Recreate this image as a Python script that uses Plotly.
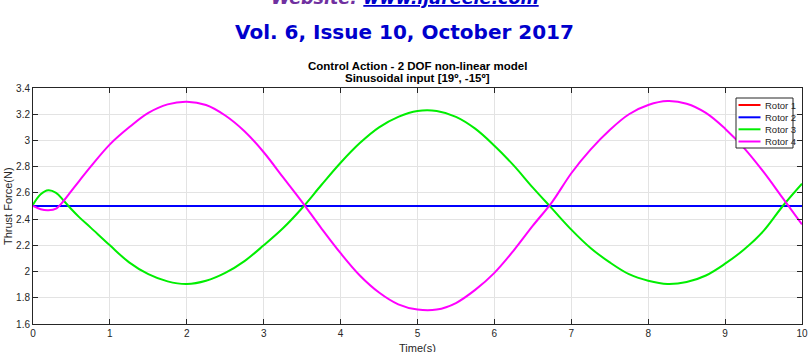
import plotly.graph_objects as go

# ---- data ----
time_s = [0, 0.1, 0.2, 0.3, 0.4, 0.5, 0.6, 0.75, 1.0, 1.25, 1.5, 1.75, 2.0, 2.25, 2.5, 2.75,
          3.0, 3.25, 3.5, 3.75, 4.0, 4.25, 4.5, 4.75, 5.0, 5.25, 5.5, 5.75, 6.0, 6.25, 6.5,
          6.75, 7.0, 7.25, 7.5, 7.75, 8.0, 8.25, 8.5, 8.75, 9.0, 9.25, 9.5, 9.75, 10.0]

rotor1 = [2.5] * len(time_s)
rotor2 = [2.5] * len(time_s)
rotor3 = [2.51, 2.59, 2.62, 2.60, 2.54, 2.475, 2.415, 2.335, 2.20, 2.07, 1.98, 1.925, 1.905, 1.93,
          1.99, 2.08, 2.20, 2.33, 2.485, 2.66, 2.83, 2.98, 3.10, 3.18, 3.225, 3.225, 3.18,
          3.09, 2.96, 2.81, 2.64, 2.48, 2.32, 2.18, 2.07, 1.98, 1.93, 1.905, 1.92, 1.97, 2.06,
          2.17, 2.31, 2.50, 2.67]
rotor4 = [2.50, 2.475, 2.468, 2.48, 2.54, 2.615, 2.69, 2.80, 2.97, 3.10, 3.21, 3.275, 3.295,
          3.27, 3.19, 3.07, 2.91, 2.72, 2.53, 2.33, 2.14, 1.97, 1.84, 1.75, 1.71, 1.71, 1.76,
          1.86, 1.99, 2.16, 2.35, 2.53, 2.75, 2.93, 3.08, 3.20, 3.27, 3.30, 3.28, 3.21, 3.09,
          2.94, 2.76, 2.56, 2.36]

series_names = ["Rotor 1", "Rotor 2", "Rotor 3", "Rotor 4"]
series_colors = ["#ff0000", "#0000ff", "#00ee00", "#ff00ff"]

x_ticks = [0, 1, 2, 3, 4, 5, 6, 7, 8, 9, 10]
y_ticks = [1.6, 1.8, 2.0, 2.2, 2.4, 2.6, 2.8, 3.0, 3.2, 3.4]
y_tick_labels = ["1.6", "1.8", "2", "2.2", "2.4", "2.6", "2.8", "3", "3.2", "3.4"]

title_line1 = "Control Action - 2 DOF non-linear model"
title_line2 = "Sinusoidal input [19º, -15º]"
x_title = "Time(s)"
y_title = "Thrust Force(N)"
header_vol = "Vol. 6, Issue 10, October 2017"
header_site_label = "Website: "
header_site_url = "www.ijareeie.com"

# ---- layout geometry (pixels) ----
W, H = 808, 352
L, R, T, B = 33, 6, 88, 28
PW, PH = W - L - R, H - T - B


def px(x):
    return (x - L) / PW


def py(y):
    return (H - B - y) / PH


axis_col = "#262626"
font_family = "Liberation Sans, Arial, sans-serif"

fig = go.Figure()
for name, vals, col in zip(series_names, [rotor1, rotor2, rotor3, rotor4], series_colors):
    fig.add_trace(go.Scatter(x=time_s, y=vals, mode="lines", name=name, showlegend=False,
                             line=dict(color=col, width=2, shape="spline", smoothing=1.0)))

fig.update_layout(
    width=W, height=H,
    margin=dict(l=L, r=R, t=T, b=B),
    paper_bgcolor="white", plot_bgcolor="white",
    font=dict(family=font_family, size=10, color=axis_col),
    showlegend=False,
)

fig.update_xaxes(range=[0, 10], tickvals=x_ticks, ticks="inside", ticklen=5,
                 tickcolor=axis_col, showline=True, linecolor=axis_col, linewidth=1,
                 mirror="ticks", showgrid=True, gridcolor="#e3e3e3", gridwidth=1,
                 zeroline=False, automargin=False, tickfont=dict(size=10, color=axis_col))
fig.update_yaxes(range=[1.6, 3.4], tickvals=y_ticks, ticktext=y_tick_labels, ticks="inside",
                 ticklen=5, tickcolor=axis_col, showline=True, linecolor=axis_col, linewidth=1,
                 mirror="ticks", showgrid=True, gridcolor="#e3e3e3", gridwidth=1,
                 zeroline=False, automargin=False, tickfont=dict(size=10, color=axis_col))

# axis titles
fig.add_annotation(xref="paper", yref="paper", x=0.5, y=py(348), yanchor="middle",
                   text=x_title, showarrow=False, font=dict(size=11, color=axis_col))
fig.add_annotation(xref="paper", yref="paper", x=px(8), y=py(206), xanchor="center",
                   yanchor="middle", textangle=-90, text=y_title, showarrow=False,
                   font=dict(size=11, color=axis_col))

# chart title
fig.add_annotation(xref="paper", yref="paper", x=0.5, y=py(66), yanchor="middle",
                   text="<b>" + title_line1 + "</b>", showarrow=False,
                   font=dict(family=font_family, size=11.5, color="black"))
fig.add_annotation(xref="paper", yref="paper", x=0.5, y=py(78), yanchor="middle",
                   text="<b>" + title_line2 + "</b>", showarrow=False,
                   font=dict(family=font_family, size=11.5, color="black"))

# page header
fig.add_annotation(xref="paper", yref="paper", x=px(404), y=py(32), yanchor="middle",
                   text="<b>" + header_vol + "</b>", showarrow=False,
                   font=dict(family="DejaVu Sans, sans-serif", size=20, color="#0000cc"))
fig.add_annotation(xref="paper", yref="paper", x=px(405), y=py(-2), yanchor="middle",
                   text="<b><i><span style='color:#7030a0'>" + header_site_label + "</span>"
                        "<span style='text-decoration:underline'>" + header_site_url +
                        "</span></i></b>",
                   showarrow=False,
                   font=dict(family="DejaVu Sans, sans-serif", size=17.5, color="#0000cc"))

# compact MATLAB-style legend
leg_x0, leg_x1, leg_y0, leg_y1 = 736, 793, 98, 148
fig.add_shape(type="rect", xref="paper", yref="paper",
              x0=px(leg_x0), x1=px(leg_x1), y0=py(leg_y0), y1=py(leg_y1),
              line=dict(color=axis_col, width=1), fillcolor="white", layer="above")
entry_rows = [105, 117.3, 129.3, 141.5]
for name, col, row in zip(series_names, series_colors, entry_rows):
    fig.add_shape(type="line", xref="paper", yref="paper",
                  x0=px(738.5), x1=px(760.5), y0=py(row), y1=py(row),
                  line=dict(color=col, width=2), layer="above")
    fig.add_annotation(xref="paper", yref="paper", x=px(763), y=py(row), xanchor="left",
                       yanchor="middle", text=name, showarrow=False,
                       font=dict(size=9.5, color=axis_col))

fig.write_html("out.html")
